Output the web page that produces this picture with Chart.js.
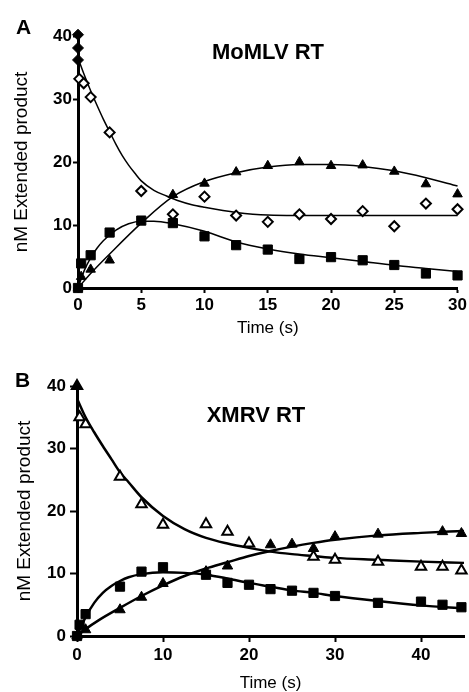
<!DOCTYPE html>
<html>
<head>
<meta charset="utf-8">
<script src="https://cdn.jsdelivr.net/npm/chart.js@4/dist/chart.umd.min.js"></script>
<style>
  html, body { margin: 0; padding: 0; background: #fff; overflow: hidden; width: 469px; height: 692px; }
  canvas { position: absolute; left: 0; }
  .lbl { position: absolute; font-family: "Liberation Sans", Arial, sans-serif; font-weight: bold; color: #000; line-height: 1; transform: translate(-50%, -50%); white-space: nowrap; }
</style>
</head>
<body>
<canvas id="cA" width="469" height="346" style="top:0"></canvas>
<canvas id="cB" width="472" height="346" style="top:346px"></canvas>
<div class="lbl" style="left:23.5px; top:25.5px; font-size:21px;">A</div>
<div class="lbl" style="left:268px; top:51.5px; font-size:22px;">MoMLV RT</div>
<div class="lbl" style="left:22.5px; top:379px; font-size:21px;">B</div>
<div class="lbl" style="left:256px; top:415px; font-size:22px;">XMRV RT</div>
<script>
// ---------- Panel A: MoMLV RT ----------
const aSquareT = [0, 0.25, 1, 2.5, 5, 7.5, 10, 12.5, 15, 17.5, 20, 22.5, 25, 27.5, 30];
const aSquareV = [0, 3.9, 5.2, 8.8, 10.7, 10.3, 8.2, 6.8, 6.1, 4.6, 4.9, 4.4, 3.65, 2.3, 2.0];
const aTriT = [0, 0.25, 1, 2.5, 7.5, 10, 12.5, 15, 17.5, 20, 22.5, 25, 27.5, 30];
const aTriV = [0, 1.8, 2.95, 4.4, 14.8, 16.6, 18.4, 19.4, 20.0, 19.4, 19.5, 18.5, 16.5, 14.9];
const aOpenDiaT = [0.1, 0.45, 1, 2.5, 5, 7.5, 10, 12.5, 15, 17.5, 20, 22.5, 25, 27.5, 30];
const aOpenDiaV = [33.2, 32.5, 30.3, 24.7, 15.4, 11.7, 14.5, 11.5, 10.5, 11.7, 10.95, 12.2, 9.8, 13.4, 12.5];
const aFillDiaT = [0, 0, 0];
const aFillDiaV = [40.2, 38.1, 36.2];

const aSqFitT = [0, 0.5, 1, 1.5, 2, 3, 4, 5, 6, 7.5, 10, 12.5, 15, 17.5, 20, 22.5, 25, 27.5, 30];
const aSqFitV = [0, 2.8, 4.8, 6.3, 7.5, 9.2, 10.2, 10.6, 10.6, 10.2, 9.0, 7.3, 6.2, 5.4, 4.8, 4.2, 3.6, 3.1, 2.6];
const aTriFitT = [0, 1, 2.5, 5, 7.5, 10, 12.5, 15, 17.5, 20, 22.5, 25, 27.5, 30];
const aTriFitV = [0, 2.3, 5.4, 10.3, 14.5, 16.9, 18.3, 19.2, 19.6, 19.6, 19.3, 18.6, 17.5, 16.2];
const aDiaFitT = [0, 0.5, 1, 1.5, 2, 2.5, 3, 3.5, 4, 4.5, 5, 6, 7, 8, 9, 10, 12.5, 15, 20, 25, 30];
const aDiaFitV = [36.5, 33.8, 31.3, 29, 26.8, 24.8, 22.8, 21, 19.5, 18.2, 17, 15.5, 14.6, 13.8, 13.2, 12.8, 12, 11.6, 11.5, 11.5, 11.5];

const aXTicks = [0, 5, 10, 15, 20, 25, 30];
const yTicks = [0, 10, 20, 30, 40];

// ---------- Panel B: XMRV RT ----------
const bOpenTriT = [0, 0.3, 1, 5, 7.5, 10, 15, 17.5, 20, 27.5, 30, 35, 40, 42.5, 44.7];
const bOpenTriV = [40, 35, 33.9, 25.5, 21.1, 17.8, 17.9, 16.7, 14.8, 12.7, 12.2, 11.9, 11.1, 11.1, 10.5];
const bSquareT = [0, 0.3, 1, 5, 7.5, 10, 15, 17.5, 20, 22.5, 25, 27.5, 30, 35, 40, 42.5, 44.7];
const bSquareV = [0, 1.8, 3.5, 7.9, 10.3, 11.0, 9.8, 8.5, 8.2, 7.5, 7.25, 6.9, 6.4, 5.3, 5.5, 5.0, 4.6];
const bTriT = [0, 1, 5, 7.5, 10, 15, 17.5, 22.5, 25, 27.5, 30, 35, 42.5, 44.7];
const bTriV = [0, 1.0, 4.2, 6.2, 8.4, 10.3, 11.2, 14.6, 14.7, 14.0, 15.9, 16.3, 16.7, 16.4];

const bOtFitT = [0, 1, 2, 3, 4, 5, 6, 7.5, 10, 12.5, 15, 17.5, 20, 22.5, 25, 27.5, 30, 35, 40, 45];
const bOtFitV = [38, 35, 32.6, 30.4, 28.3, 26.2, 24.6, 22.2, 19.2, 17.1, 15.7, 14.8, 14.1, 13.5, 13.1, 12.8, 12.5, 12.2, 11.9, 11.7];
const bSqFitT = [0, 1, 2, 3, 4, 5, 6, 7.5, 10, 12.5, 15, 17.5, 20, 22.5, 25, 27.5, 30, 35, 40, 45];
const bSqFitV = [0, 3, 5.3, 6.9, 8.0, 8.8, 9.4, 9.9, 10.2, 10.1, 9.8, 9.2, 8.5, 7.9, 7.3, 6.9, 6.4, 5.6, 4.9, 4.4];
const bTriFitT = [0, 1, 2.5, 5, 7.5, 10, 12.5, 15, 17.5, 20, 22.5, 25, 27.5, 30, 35, 40, 45];
const bTriFitV = [0, 1.1, 2.5, 4.5, 6.4, 8.1, 9.6, 10.8, 11.8, 12.8, 13.6, 14.3, 14.9, 15.4, 16.1, 16.5, 16.8];

const bXTicks = [0, 10, 20, 30, 40];

const FONT = '"Liberation Sans", Arial, Helvetica, sans-serif';
const zip = (t, v) => t.map((x, i) => ({ x: x, y: v[i] }));

function markers(t, v, style, r, bg, bw) {
  return { data: zip(t, v), showLine: false, pointStyle: style, pointRadius: r, pointHoverRadius: r,
    pointBackgroundColor: bg, pointBorderColor: '#000', pointBorderWidth: bw, clip: false };
}
function curve(t, v, w) {
  return { data: zip(t, v), showLine: true, pointRadius: 0, pointHoverRadius: 0, borderColor: '#000',
    borderWidth: w, cubicInterpolationMode: 'monotone', fill: false, clip: false };
}

function makeOptions(cfg) {
  return {
    responsive: false, animation: false, events: [],
    layout: { padding: { left: 0, right: cfg.padRight, top: cfg.padTop, bottom: 0 } },
    plugins: { legend: { display: false }, tooltip: { enabled: false }, title: { display: false } },
    scales: {
      x: {
        type: 'linear', min: 0, max: cfg.xMax,
        afterBuildTicks: (s) => { s.ticks = cfg.xTicks.map(v => ({ value: v })); },
        afterFit: (s) => { s.height = cfg.xHeight; },
        grid: { display: true, drawOnChartArea: false, drawTicks: true, tickLength: cfg.xTickLen, tickWidth: 2, tickColor: '#000' },
        border: { display: true, color: '#000', width: 3 },
        ticks: { color: '#000', padding: cfg.xTickPad, maxRotation: 0, autoSkip: false, font: { family: FONT, size: 17, weight: 'bold' } },
        title: { display: true, text: 'Time (s)', color: '#000', font: { family: FONT, size: 17, lineHeight: 1 }, padding: { top: 0, bottom: cfg.xTitlePad } }
      },
      y: {
        type: 'linear', min: 0, max: 40,
        afterBuildTicks: (s) => { s.ticks = yTicks.map(v => ({ value: v })); },
        afterFit: (s) => { s.width = cfg.yWidth; },
        grid: { display: true, drawOnChartArea: false, drawTicks: true, tickLength: cfg.yTickLen, tickWidth: 2, tickColor: '#000' },
        border: { display: true, color: '#000', width: 3 },
        ticks: { color: '#000', padding: cfg.yTickPad, font: { family: FONT, size: 17, weight: 'bold' } },
        title: { display: true, text: 'nM Extended product', color: '#000', font: { family: FONT, size: 19, lineHeight: 1 }, padding: { top: cfg.yTitlePad, bottom: 0 } }
      }
    }
  };
}

new Chart(document.getElementById('cA'), {
  type: 'scatter',
  data: { datasets: [
    markers(aFillDiaT, aFillDiaV, 'rectRot', 5.5, '#000', 1),
    markers(aSquareT, aSquareV, 'rect', 6.5, '#000', 1),
    markers(aTriT, aTriV, 'triangle', 5.5, '#000', 1),
    markers(aOpenDiaT, aOpenDiaV, 'rectRot', 5, '#fff', 2),
    curve(aSqFitT, aSqFitV, 1.5),
    curve(aTriFitT, aTriFitV, 1.5),
    curve(aDiaFitT, aDiaFitV, 1.5)
  ] },
  options: makeOptions({ padRight: 11, padTop: 36, xMax: 30, xTicks: aXTicks, xHeight: 58, xTickLen: 5, xTickPad: 2,
    xTitlePad: 9.5, yWidth: 78, yTickLen: 5, yTickPad: 1, yTitlePad: 12 })
});

new Chart(document.getElementById('cB'), {
  type: 'scatter',
  data: { datasets: [
    markers(bSquareT, bSquareV, 'rect', 6.5, '#000', 1),
    markers(bTriT, bTriV, 'triangle', 6, '#000', 1),
    markers(bOpenTriT, bOpenTriV, 'triangle', 6, bOpenTriT.map((t, i) => i === 0 ? '#000' : '#fff'), 2),
    curve(bSqFitT, bSqFitV, 2.5),
    curve(bTriFitT, bTriFitV, 2.5),
    curve(bOtFitT, bOtFitV, 2.5)
  ] },
  options: makeOptions({ padRight: 1, padTop: 40, xMax: 45, xTicks: bXTicks, xHeight: 56, xTickLen: 6, xTickPad: 3,
    xTitlePad: 0, yWidth: 77, yTickLen: 7, yTickPad: 4, yTitlePad: 15.5 })
});
</script>
</body>
</html>
